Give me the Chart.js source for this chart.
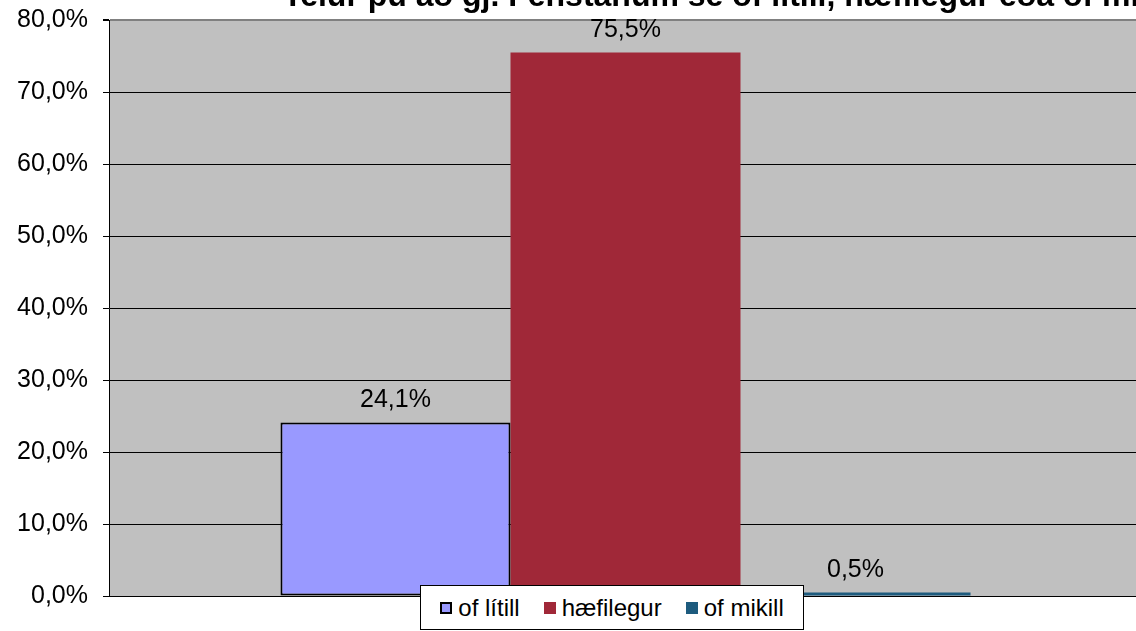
<!DOCTYPE html>
<html>
<head>
<meta charset="utf-8">
<script src="https://cdn.jsdelivr.net/npm/chart.js@4.4.0/dist/chart.umd.min.js"></script>
<style>
  html, body { margin: 0; padding: 0; background: #fff; overflow: hidden; }
  #wrap { position: absolute; left: 0; top: 0; width: 1142px; height: 631px; }
  #legend {
    position: absolute; left: 420px; top: 585px; width: 382px; height: 43px;
    background: #fff; border: 1px solid #000;
    display: flex; align-items: center; justify-content: center; gap: 24px;
    font: 24px "Liberation Sans", Arial, sans-serif; color: #000;
  }
  #legend .item { display: flex; align-items: center; }
  #legend .box { width: 12px; height: 12px; margin-right: 6px; box-sizing: border-box; }
</style>
</head>
<body>
<div id="wrap"><canvas id="myChart"></canvas></div>
<div id="legend"></div>
<script>
const TITLE = "Telur þú að gj. Fenstanum sé of lítill, hæfilegur eða of mikill?";
const categories = [""];
const seriesNames = ["of lítill", "hæfilegur", "of mikill"];
const seriesValues = [0.241, 0.755, 0.005];
const seriesColors = ["#9999FF", "#A02838", "#1D5B7E"];
const seriesBorders = [2, 0, 0];
const yTicks = [0, 0.1, 0.2, 0.3, 0.4, 0.5, 0.6, 0.7, 0.8];

const FONT = '"Liberation Sans", Arial, sans-serif';

function pct(v) {
  return (v * 100).toFixed(1).replace(".", ",") + "%";
}

let dataSets = [];
for (let i = 0; i < seriesNames.length; i++) {
  dataSets.push({
    label: seriesNames[i],
    data: [seriesValues[i]],
    backgroundColor: seriesColors[i],
    borderColor: "#000",
    borderWidth: seriesBorders[i],
    borderSkipped: false,
    categoryPercentage: 0.668,
    barPercentage: 1
  });
}

// grey plot area + clipped title at the top
const plotBackground = {
  id: "plotBackground",
  beforeDraw(chart) {
    let c = chart.ctx, a = chart.chartArea;
    c.save();
    c.fillStyle = "#C0C0C0";
    c.fillRect(a.left, a.top, a.right - a.left, a.bottom - a.top);
    c.restore();
  },
  afterDraw(chart) {
    let c = chart.ctx;
    c.save();
    c.font = "bold 32px " + FONT;
    c.fillStyle = "#000";
    c.textAlign = "left";
    c.textBaseline = "alphabetic";
    c.fillText(TITLE, 283, 6);
    c.restore();
  }
};

const valueLabels = {
  id: "valueLabels",
  afterDatasetsDraw(chart) {
    let c = chart.ctx;
    c.save();
    c.font = "25px " + FONT;
    c.fillStyle = "#000";
    c.textAlign = "center";
    c.textBaseline = "alphabetic";
    chart.data.datasets.forEach((ds, i) => {
      let bar = chart.getDatasetMeta(i).data[0];
      c.fillText(pct(ds.data[0]), bar.x, bar.y - 15);
    });
    c.restore();
  }
};

const ctx = document.getElementById("myChart");
new Chart(ctx, {
  type: "bar",
  data: { labels: categories, datasets: dataSets },
  options: {
    responsive: true,
    maintainAspectRatio: false,
    animation: false,
    layout: { padding: { top: 20, right: 0, bottom: 0, left: 0 } },
    plugins: { legend: { display: false }, tooltip: { enabled: false }, title: { display: false } },
    scales: {
      x: {
        ticks: { display: false },
        grid: { display: false },
        border: { display: true, color: "#000", width: 1 },
        afterFit(scale) { scale.height = 35; }
      },
      y: {
        min: 0,
        max: 0.8,
        afterBuildTicks(scale) { scale.ticks = yTicks.map(v => ({ value: v })); },
        ticks: {
          callback: v => pct(v),
          color: "#000",
          font: { family: FONT, size: 25 },
          padding: 15
        },
        grid: {
          color: c => (c.tick && c.tick.value === 0.8 ? "#808080" : "#000"),
          lineWidth: c => (c.tick && c.tick.value === 0.8 ? 2 : 1),
          tickLength: 6,
          tickColor: "#000"
        },
        border: { display: true, color: "#000", width: 1 },
        afterFit(scale) {
          scale.width = 109;
          scale.paddingTop = 0;
          scale.paddingBottom = 0;
        }
      }
    }
  },
  plugins: [plotBackground, valueLabels]
});

// legend box from the series arrays
let legend = document.getElementById("legend");
for (let i = 0; i < seriesNames.length; i++) {
  let border = seriesBorders[i] ? "2px solid #000" : "none";
  legend.insertAdjacentHTML("beforeend",
    `<div class="item"><span class="box" style="background:${seriesColors[i]};border:${border}"></span>${seriesNames[i]}</div>`);
}
</script>
</body>
</html>
